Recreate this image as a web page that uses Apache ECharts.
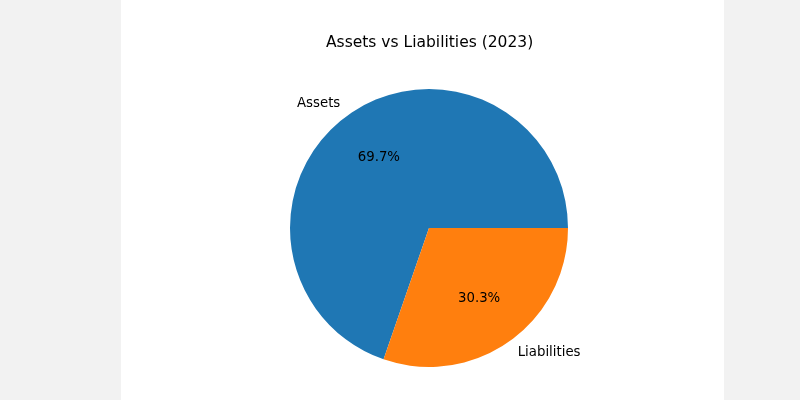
<!DOCTYPE html>
<html>
<head>
<meta charset="utf-8">
<script src="https://cdn.jsdelivr.net/npm/echarts@6/dist/echarts.min.js"></script>
<style>
html,body{margin:0;padding:0;width:800px;height:400px;background:#f2f2f2;overflow:hidden;}
#panel{position:absolute;left:121px;top:0;width:603px;height:400px;background:#ffffff;}
#chart{position:absolute;left:0;top:0;width:800px;height:400px;}
</style>
</head>
<body>
<div id="panel"></div>
<div id="chart"></div>
<script>
const titleText = 'Assets vs Liabilities (2023)';
const categories = ['Assets', 'Liabilities'];
const values = [69.7, 30.3];
const colors = ['#1f77b4', '#ff7f0e'];

const R = 139;
const C = [429, 228];
const data = categories.map((c, i) => ({ name: c, value: values[i], itemStyle: { color: colors[i] } }));

const chart = echarts.init(document.getElementById('chart'), null, { renderer: 'canvas' });
chart.setOption({
  animation: false,
  backgroundColor: 'transparent',
  title: {
    text: titleText,
    left: 321,
    top: 30,
    textStyle: { fontFamily: 'DejaVu Sans', fontSize: 15.5, fontWeight: 'normal', color: '#000' }
  },
  series: [
    {
      type: 'pie',
      center: C,
      radius: [0, R],
      startAngle: 0,
      clockwise: false,
      avoidLabelOverlap: false,
      silent: true,
      data: data,
      itemStyle: { borderWidth: 0 },
      label: {
        show: true,
        position: 'outside',
        formatter: '{b}',
        distanceToLabelLine: 0,
        fontFamily: 'DejaVu Sans',
        fontSize: 13.3,
        color: '#000'
      },
      labelLine: { show: false, length: R * 0.1, length2: 0 }
    },
    {
      type: 'pie',
      center: C,
      radius: [0, R * 1.2],
      startAngle: 0,
      clockwise: false,
      silent: true,
      data: data.map(d => ({ name: d.name, value: d.value })),
      itemStyle: { color: 'rgba(0,0,0,0)', borderWidth: 0 },
      label: {
        show: true,
        position: 'inside',
        formatter: p => p.value.toFixed(1) + '%',
        fontFamily: 'DejaVu Sans',
        fontSize: 13.3,
        color: '#000'
      },
      labelLine: { show: false }
    }
  ]
});
</script>
</body>
</html>
